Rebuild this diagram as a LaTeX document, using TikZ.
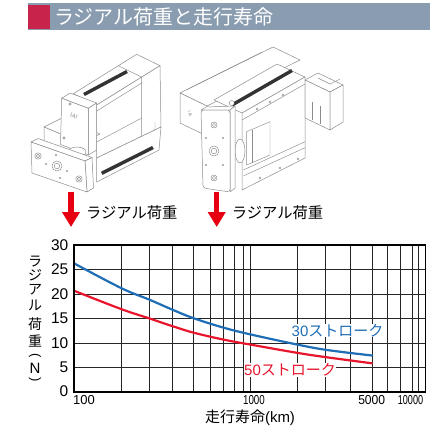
\documentclass[tikz,border=0pt]{standalone}
\usepackage{fontspec}
\setmainfont{Liberation Sans}
\newfontfamily\jp{Noto Sans CJK JP}
\usetikzlibrary{arrows.meta}
\definecolor{hdrgray}{HTML}{8A9DB0}
\definecolor{hdrred}{HTML}{C8234B}
\definecolor{arrred}{HTML}{E60012}
\definecolor{cblue}{HTML}{1F6DB5}
\definecolor{cred}{HTML}{E8162C}
\definecolor{mechgray}{HTML}{8C8C8C}
\tikzset{
  mech/.style={draw=mechgray, fill=white, line width=0.5pt, line join=round},
  mechline/.style={draw=mechgray, line width=0.45pt},
  stripe/.style={draw=black!80, line width=3.4pt},
  hole/.style={draw=mechgray, fill=white, line width=0.45pt},
  gridline/.style={draw=black!85, line width=0.9pt},
  frameline/.style={draw=black, line width=1.8pt},
  ytick/.style={anchor=east, inner sep=0pt, font=\fontsize{15.5}{16}\selectfont},
  xtick/.style={inner sep=0pt, font=\fontsize{13}{14}\selectfont},
  ychar/.style={inner sep=0pt, font=\jp\fontsize{14}{14}\selectfont},
  loadarrow/.style={draw=arrred, line width=5.5pt, -{Triangle[width=17pt,length=15pt]}},
  loadlabel/.style={anchor=west, inner sep=0pt, font=\jp\fontsize{15.3}{16}\selectfont},
  curvelabel/.style={inner sep=0.5pt, fill=white, font=\fontsize{15}{16}\selectfont}
}
\begin{document}
\begin{tikzpicture}[x=1pt,y=-1pt]
\useasboundingbox (0,0) rectangle (434,426);
% ---------- header
\fill[hdrgray] (28,3) rectangle (430,29.5);
\fill[hdrred] (28,5) rectangle (50,28.5);
\node[anchor=west, inner sep=0pt, text=white, font=\jp\fontsize{20}{22}\selectfont] (title) at (54,16.5) {ラジアル荷重と走行寿命};

% ---------- device 1
% upper unit with motor
\filldraw[mech] (73.3,93.7) -- (136.7,54.3) -- (160,65.7) -- (96.7,105) -- cycle;
\filldraw[mech] (96.7,105) -- (160,65.7) -- (161,127) -- (96.7,158) -- cycle;
\draw[mechline] (118.4,65.8) -- (141.7,77.1) -- (141.7,135.5);
\draw[mechline] (96.7,111) -- (141.7,83);
\draw[mechline] (96.7,142) -- (141.7,118);
\draw[mechline] (155,122) -- (155,131) -- (160,129);
\draw[stripe] (84,94.5) -- (127,71.5);
% lower body side
\filldraw[mech] (96.7,158) -- (161,127) -- (159,150) -- (96.7,182) -- cycle;
\draw[stripe] (101.7,173.3) -- (153,147.5);
% lower body front ledge
\filldraw[mech] (44,127) -- (62,118) -- (100,134) -- (82,143) -- cycle;
\filldraw[mech] (44,127) -- (82,143) -- (82,165) -- (44,150) -- cycle;
% cover
\filldraw[mech] (61.7,98.3) -- (70,93) -- (96.7,103) -- (88.3,108.3) -- cycle;
\filldraw[mech] (88.3,108.3) -- (96.7,103) -- (96.7,150) -- (88.3,155) -- cycle;
\filldraw[mech] (61.7,98.3) -- (88.3,108.3) -- (88.3,155) -- (60.5,144.5) -- cycle;
\node[rotate=-20, inner sep=0pt, text=mechgray, font=\fontsize{6}{6}\selectfont] (iai1) at (74,116) {IAI};
\filldraw[hole] (70,104) circle (1.2);
\filldraw[hole] (64,138) circle (1.2);
\filldraw[mech] (77,152) ellipse (9 and 5);
% front plate
\filldraw[mech] (31,142) -- (38,138.5) -- (92,157.5) -- (85,161) -- cycle;
\filldraw[mech] (85,161) -- (92,157.5) -- (93.5,188) -- (87,192) -- cycle;
\filldraw[mech] (31,142) -- (85,161) -- (87,192) -- (32,173) -- cycle;
\filldraw[hole] (38,156) circle (3.2);
\filldraw[hole] (38,156) circle (1.7);
\filldraw[hole] (57,166) circle (5);
\filldraw[hole] (57,166) circle (2.8);
\filldraw[hole] (79,179) circle (3.2);
\filldraw[hole] (79,179) circle (1.7);
\filldraw[hole] (46,164) circle (0.9);
\filldraw[hole] (67,171) circle (0.9);
\filldraw[hole] (56,155) circle (0.9);
\filldraw[hole] (60,178) circle (0.9);

% ---------- device 2
% back box
\filldraw[mech] (180,93) -- (273,47) -- (300,60) -- (207,106) -- cycle;
\filldraw[mech] (180,93) -- (207,106) -- (207,136) -- (180,123) -- cycle;
\node[rotate=-70, inner sep=0pt, text=mechgray, font=\fontsize{4.5}{5}\selectfont] (iai2) at (190,114) {IAI};
\draw[mechline] (186,90) -- (262,52);
% main box
\filldraw[mech] (214,100) -- (277,64) -- (305,77) -- (242,113) -- cycle;
\filldraw[mech] (242,113) -- (305,77) -- (305,158) -- (242,190) -- cycle;
\draw[stripe] (232,105) -- (292,70.5);
\draw[mechline] (242,120) -- (305,84);
\draw[mechline] (246.7,131.7) -- (270,121.7) -- (270,155) -- (246.7,165) -- cycle;
\draw[mechline] (252,129.5) -- (252,162.5);
\draw[mechline] (243.3,170) -- (305,141.7);
\draw[mechline] (243.3,176) -- (305,147.7);
\filldraw[hole] (257,109) circle (1.1);
\filldraw[hole] (270,102) circle (1.1);
\filldraw[hole] (283,95) circle (1.1);
\filldraw[hole] (260,178) circle (1.1);
\filldraw[hole] (280,168) circle (1.1);
\filldraw[hole] (298,159) circle (1.1);
% right end block
\filldraw[mech] (305,80) -- (318,73) -- (343,85) -- (330,92) -- cycle;
\filldraw[mech] (305,80) -- (330,92) -- (330,130) -- (305,118) -- cycle;
\filldraw[mech] (330,92) -- (343,85) -- (343,122) -- (330,130) -- cycle;
\draw[mechline] (318,78) -- (330,84) -- (340,79);
\draw[mechline] (312,102) -- (312,120);
\draw[mechline] (320,106) -- (320,124);
% round feature behind plate
\filldraw[mech] (240,151) ellipse (5 and 12);
\filldraw[hole] (231.7,103) circle (2.5);
% front plate
\filldraw[mech] (201,110) -- (206,107) -- (235,106) -- (230,110) -- cycle;
\filldraw[mech] (230,110) -- (235,106) -- (235,188) -- (230,192) -- cycle;
\filldraw[mech, rounded corners=3pt] (201,110) -- (230,110) -- (230,192) -- (203,188) -- cycle;
\filldraw[hole] (214,125) circle (3);
\filldraw[hole] (214,125) circle (1.6);
\filldraw[hole] (214,151) circle (5);
\filldraw[hole] (214,151) circle (2.8);
\filldraw[hole] (214,178) circle (3);
\filldraw[hole] (214,178) circle (1.6);
\filldraw[hole] (206,138) circle (0.9);
\filldraw[hole] (223,138) circle (0.9);
\filldraw[hole] (206,165) circle (0.9);
\filldraw[hole] (223,165) circle (0.9);

% ---------- load arrows
\coordinate (a1s) at (71,192);
\coordinate (a1e) at (71,227);
\coordinate (a2s) at (216.7,192);
\coordinate (a2e) at (216.7,227);
\draw[loadarrow] (a1s) -- (a1e);
\draw[loadarrow] (a2s) -- (a2e);
\node[loadlabel] (load1) at (86,212.7) {ラジアル荷重};
\node[loadlabel] (load2) at (231.7,212.7) {ラジアル荷重};

% ---------- chart
\foreach \yy in {269.5,294,318.5,343,367.5}
  \draw[gridline] (74,\yy) -- (425.5,\yy);
\foreach \xx in {121,149,172,193,210,223,234,243,250,297,325,350,372,387,400,412,418}
  \draw[gridline] (\xx,245) -- (\xx,392);
\draw[cblue, line width=2.2pt, line cap=round] plot[smooth, tension=0.6] coordinates {(74,263.3) (121,288) (149,299.5) (172,309.5) (193,318) (223,327.5) (250,334.3) (297,344.5) (327,350) (372,355.5)};
\draw[cred, line width=2.2pt, line cap=round] plot[smooth, tension=0.6] coordinates {(74,290.7) (121,309) (149,318.3) (172,326) (193,332.5) (223,339.5) (250,344.5) (297,352.8) (327,357.3) (372,363.3)};
\draw[frameline] (74,245) rectangle (425.5,392);
\node[curvelabel, text=cblue] (lab30) at (337.5,330.5) {30\jp ストローク};
\node[curvelabel, text=cred] (lab50) at (290,370) {50\jp ストローク};

% y ticks
\node[ytick] (y30) at (68.5,245) {30};
\node[ytick] (y25) at (68.5,269.5) {25};
\node[ytick] (y20) at (68.5,294) {20};
\node[ytick] (y15) at (68.5,318.5) {15};
\node[ytick] (y10) at (68.5,343) {10};
\node[ytick] (y5) at (68.5,367.5) {5};
\node[ytick] (y0) at (68.5,391) {0};
% x ticks
\node[xtick, anchor=west] (x100) at (73,400.5) {100};
\node[xtick, xscale=0.75] (x1000) at (254,400.5) {1000};
\node[xtick, xscale=0.93] (x5000) at (371.7,400.5) {5000};
\node[xtick, xscale=0.7] (x10000) at (410.5,400.5) {10000};
\node[inner sep=0pt, font=\fontsize{15}{16}\selectfont] (xtitle) at (250,417.5) {\jp 走行寿命\rmfamily (km)};
% y title (vertical)
\node[ychar] (c1) at (35,261.7) {ラ};
\node[ychar] (c2) at (35,275.5) {ジ};
\node[ychar] (c3) at (35,289.5) {ア};
\node[ychar] (c4) at (35,305) {ル};
\node[ychar] (c5) at (35,324) {荷};
\node[ychar] (c6) at (35,341) {重};
\node[inner sep=0pt, rotate=-90, font=\fontsize{13}{14}\selectfont] (c7) at (35,356) {(};
\node[inner sep=0pt, font=\fontsize{15}{16}\selectfont] (c8) at (35,368) {N};
\node[inner sep=0pt, rotate=-90, font=\fontsize{13}{14}\selectfont] (c9) at (35,379.5) {)};
\end{tikzpicture}
\end{document}
